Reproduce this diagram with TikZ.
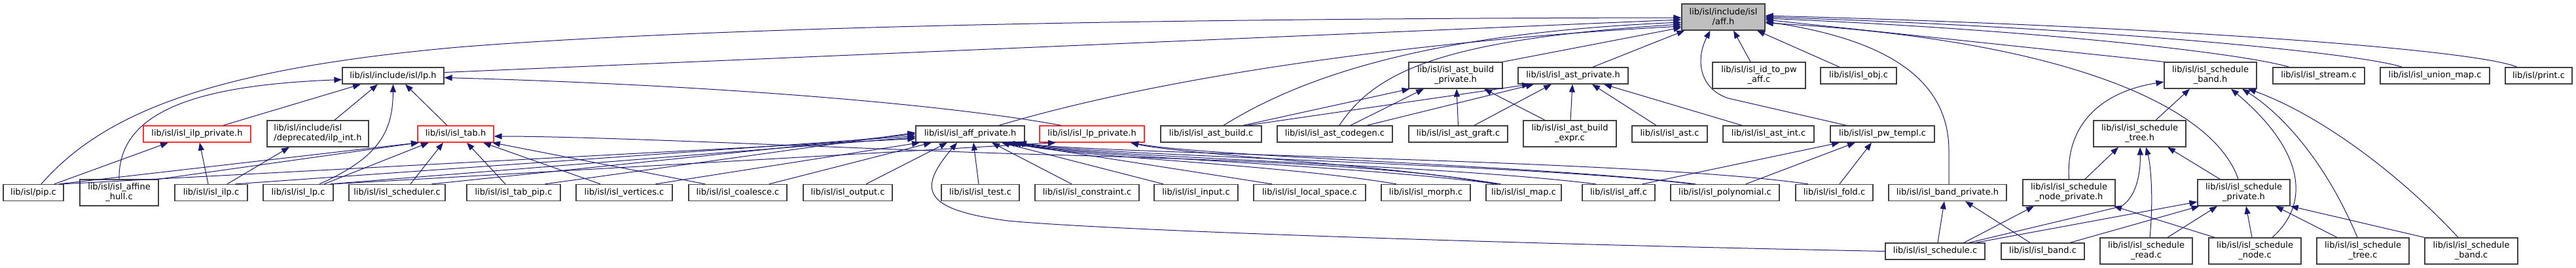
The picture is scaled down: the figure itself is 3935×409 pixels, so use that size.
\documentclass[tikz,border=0pt]{standalone}
\usepackage{fontspec}
\setmainfont{DejaVu Sans}
\usepackage{tikz}
\usetikzlibrary{arrows.meta}
\definecolor{edgeblue}{HTML}{191970}
\definecolor{boxgray}{HTML}{404040}
\definecolor{rootgray}{HTML}{BFBFBF}
\definecolor{truncred}{HTML}{FF3030}
\newcommand{\filefont}{\fontsize{13}{15}\selectfont}

\begin{document}
\begin{tikzpicture}[x=1pt, y=-1pt,
        file/.style={rectangle, draw=boxgray, line width=1.3pt, fill=white, minimum height=25pt, inner sep=0pt, align=center, font=\filefont},
        twoline/.style={minimum height=40pt},
        trunc/.style={draw=truncred},
        root/.style={fill=rootgray},
        dep/.style={draw=edgeblue, line width=1pt, -{Triangle[length=12pt, width=9pt]}}
    ]
        \path[fill=white, use as bounding box] (0,0) rectangle (3935,409);

        \node[file, twoline, root, minimum width=127pt] (affh) at (2632.5,26) {lib/isl/include/isl\\/aff.h};

        \node[file, minimum width=155pt] (lph) at (600.5,115.5) {lib/isl/include/isl/lp.h};
        \node[file, twoline, minimum width=143pt] (astbuildprivh) at (2223.5,115) {lib/isl/isl\_ast\_build\\\_private.h};
        \node[file, minimum width=168pt] (astprivh) at (2403,115.5) {lib/isl/isl\_ast\_private.h};
        \node[file, twoline, minimum width=142pt] (idtopwaffc) at (2687,115) {lib/isl/isl\_id\_to\_pw\\\_aff.c};
        \node[file, minimum width=116pt] (objc) at (2839,115.5) {lib/isl/isl\_obj.c};
        \node[file, twoline, minimum width=141pt] (schedbandh) at (3376.5,115) {lib/isl/isl\_schedule\\\_band.h};
        \node[file, minimum width=140pt] (streamc) at (3542,115.5) {lib/isl/isl\_stream.c};
        \node[file, minimum width=167pt] (unionmapc) at (3719.5,115.5) {lib/isl/isl\_union\_map.c};
        \node[file, minimum width=102pt] (printc) at (3878,115.5) {lib/isl/print.c};

        \node[file, trunc, minimum width=164pt] (ilpprivh) at (301,204.5) {lib/isl/isl\_ilp\_private.h};
        \node[file, twoline, align=left, minimum width=155pt] (ilpinth) at (485.5,204) {lib/isl/include/isl\\/deprecated/ilp\_int.h};
        \node[file, trunc, minimum width=116pt] (tabh) at (696,204.5) {lib/isl/isl\_tab.h};
        \node[file, minimum width=166pt] (affprivh) at (1482,204.5) {lib/isl/isl\_aff\_private.h};
        \node[file, trunc, minimum width=160pt] (lpprivh) at (1668,204.5) {lib/isl/isl\_lp\_private.h};
        \node[file, minimum width=154pt] (astbuildc) at (1850,204.5) {lib/isl/isl\_ast\_build.c};
        \node[file, minimum width=176pt] (astcodegenc) at (2039,204.5) {lib/isl/isl\_ast\_codegen.c};
        \node[file, minimum width=151pt] (astgraftc) at (2227.5,204.5) {lib/isl/isl\_ast\_graft.c};
        \node[file, twoline, minimum width=142pt] (astbuildexprc) at (2398,204) {lib/isl/isl\_ast\_build\\\_expr.c};
        \node[file, minimum width=115pt] (astc) at (2550.5,204.5) {lib/isl/isl\_ast.c};
        \node[file, minimum width=139pt] (astintc) at (2701.5,204.5) {lib/isl/isl\_ast\_int.c};
        \node[file, minimum width=159pt] (pwtemplc) at (2875.5,204.5) {lib/isl/isl\_pw\_templ.c};
        \node[file, twoline, minimum width=141pt] (schedtreeh) at (3268.5,204) {lib/isl/isl\_schedule\\\_tree.h};

        \node[file, minimum width=92pt] (pipc) at (51,294) {lib/isl/pip.c};
        \node[file, twoline, minimum width=120pt] (affhullc) at (182,294) {lib/isl/isl\_affine\\\_hull.c};
        \node[file, minimum width=111pt] (ilpc) at (322.5,294) {lib/isl/isl\_ilp.c};
        \node[file, minimum width=107pt] (lpc) at (455.5,294) {lib/isl/isl\_lp.c};
        \node[file, minimum width=147pt] (schedulerc) at (606.5,294) {lib/isl/isl\_scheduler.c};
        \node[file, minimum width=143pt] (tabpipc) at (784.5,294) {lib/isl/isl\_tab\_pip.c};
        \node[file, minimum width=147pt] (verticesc) at (953.5,294) {lib/isl/isl\_vertices.c};
        \node[file, minimum width=150pt] (coalescec) at (1127,294) {lib/isl/isl\_coalesce.c};
        \node[file, minimum width=136pt] (outputc) at (1295,294) {lib/isl/isl\_output.c};
        \node[file, minimum width=119pt] (testc) at (1497.5,294) {lib/isl/isl\_test.c};
        \node[file, minimum width=159pt] (constraintc) at (1660.5,294) {lib/isl/isl\_constraint.c};
        \node[file, minimum width=128pt] (inputc) at (1827,294) {lib/isl/isl\_input.c};
        \node[file, minimum width=171pt] (localspacec) at (2000.5,294) {lib/isl/isl\_local\_space.c};
        \node[file, minimum width=136pt] (morphc) at (2178,294) {lib/isl/isl\_morph.c};
        \node[file, minimum width=115pt] (mapc) at (2327.5,294) {lib/isl/isl\_map.c};
        \node[file, minimum width=111pt] (affc) at (2472.5,294) {lib/isl/isl\_aff.c};
        \node[file, minimum width=166pt] (polyc) at (2635,294) {lib/isl/isl\_polynomial.c};
        \node[file, minimum width=118pt] (foldc) at (2802,294) {lib/isl/isl\_fold.c};
        \node[file, minimum width=180pt] (bandprivh) at (2975,294) {lib/isl/isl\_band\_private.h};
        \node[file, twoline, minimum width=141pt] (schednodeprivh) at (3160.5,294) {lib/isl/isl\_schedule\\\_node\_private.h};
        \node[file, twoline, minimum width=141pt] (schedprivh) at (3427.5,294) {lib/isl/isl\_schedule\\\_private.h};

        \node[file, minimum width=152pt] (schedulec) at (2956,383.5) {lib/isl/isl\_schedule.c};
        \node[file, minimum width=127pt] (bandc) at (3120.5,383.5) {lib/isl/isl\_band.c};
        \node[file, twoline, minimum width=141pt] (schedreadc) at (3278.5,383) {lib/isl/isl\_schedule\\\_read.c};
        \node[file, twoline, minimum width=141pt] (schednodec) at (3444.5,383) {lib/isl/isl\_schedule\\\_node.c};
        \node[file, twoline, minimum width=141pt] (schedtreec) at (3609.5,383) {lib/isl/isl\_schedule\\\_tree.c};
        \node[file, twoline, minimum width=142pt] (schedbandc) at (3775,383) {lib/isl/isl\_schedule\\\_band.c};

        \foreach \c/\cx/\p/\px in {idtopwaffc/-13/affh/15.5, objc/-29/affh/51.5,
                ilpprivh/40/lph/-49.5, ilpinth/25.5/lph/-23.5, tabh/-13/lph/18.5,
                pipc/32/ilpprivh/-44, ilpc/-4.5/ilpprivh/4, ilpc/24.5/ilpinth/-43.5,
                pipc/39/tabh/-56, lpc/39.5/tabh/-41, schedulerc/20.5/tabh/-19, tabpipc/-12.5/tabh/17,
                verticesc/-36.5/tabh/42, coalescec/-50/tabh/56,
                coalescec/48/affprivh/-59, outputc/28/affprivh/-35, testc/-2.5/affprivh/5,
                constraintc/-23.5/affprivh/33, inputc/-50/affprivh/48, localspacec/-57.5/affprivh/56,
                verticesc/48/affprivh/-77, lpc/53/lpprivh/-55,
                affc/36.5/pwtemplc/-65.5, polyc/32/pwtemplc/-41.5, foldc/8/pwtemplc/-16.5,
                astc/-20.5/astprivh/29, astintc/-40.5/astprivh/47, astbuildexprc/1/astprivh/-1,
                astbuildexprc/-38/astbuildprivh/43.5, astgraftc/0/astbuildprivh/1.5, astgraftc/24.5/astprivh/-33,
                astcodegenc/24/astbuildprivh/-48.5, astcodegenc/49/astprivh/-60,
                astbuildc/55/astprivh/-66, astbuildc/49/astbuildprivh/-70,
                schedulec/4/bandprivh/-5, bandc/-19.5/bandprivh/27,
                schedtreeh/24.5/schedbandh/-31.5, schednodeprivh/24.5/schedtreeh/-32.5, schedprivh/-36.5/schedtreeh/42.5,
                schednodec/-61.5/schednodeprivh/68.5, schedulec/44/schednodeprivh/-53.5,
                bandc/41.5/schedprivh/-68, schedreadc/32.5/schedprivh/-40.5, schednodec/-4.5/schedprivh/3.5,
                schedtreec/-39.5/schedprivh/48.5}
            \draw[dep] ([xshift=\cx pt]\c.north) -- ([xshift=\px pt]\p.south);

        \foreach \c/\cx/\py in {pipc/44/-7, ilpc/37/-3, lpc/49/-5, schedulerc/53/0, tabpipc/48/2}
            \draw[dep] ([xshift=\cx pt]\c.north) -- ([yshift=\py pt]affprivh.west);

        \draw[dep] ([yshift=5pt]lph.east) -- ([yshift=-4pt]affh.west);
        \draw[dep] ([xshift=12pt]pipc.north) .. controls (160,170) and (330,105) .. (700,72) .. controls (1100,40) and (1800,28) .. ([yshift=-1pt]affh.west);
        \draw[dep] ([xshift=44pt]affprivh.north) .. controls (1800,110) and (2200,60) .. ([yshift=-14pt]affh.west);
        \draw[dep] ([xshift=19pt]astbuildc.north) .. controls (2000,110) and (2200,50) .. ([yshift=-8pt]affh.west);
        \draw[dep] ([xshift=7pt]astcodegenc.north) .. controls (2100,110) and (2200,60) .. ([yshift=-11pt]affh.west);
        \draw[dep] (astbuildprivh.north east) -- ([yshift=-16pt]affh.west);
        \draw[dep] ([xshift=30pt]astprivh.north) -- ([xshift=5pt]affh.south west);
        \draw[dep] ([xshift=-55pt]pwtemplc.north) -- (2640,150) .. controls (2595,135) and (2590,90) .. ([xshift=-20pt]affh.south);
        \draw[dep] ([xshift=2pt]bandprivh.north) -- (2977,230) .. controls (2977,120) and (2880,60) .. ([yshift=-7pt]affh.east);
        \draw[dep] (schedbandh.north west) -- ([yshift=-4pt]affh.east);
        \draw[dep] ([xshift=-45pt]streamc.north) .. controls (3420,80) and (3100,45) .. ([yshift=-2pt]affh.east);
        \draw[dep] ([xshift=-50pt]unionmapc.north) .. controls (3600,80) and (3200,42) .. (affh.east);
        \draw[dep] ([xshift=-33pt]printc.north) .. controls (3780,75) and (3300,40) .. ([yshift=2pt]affh.east);
        \draw[dep] ([xshift=-8.5pt]schedprivh.north) .. controls (3380,160) and (3150,60) .. ([yshift=-9pt]affh.east);

        \draw[dep] (affhullc.north) .. controls (180,170) and (300,130) .. ([yshift=-6pt]lph.west);
        \draw[dep] ([xshift=32.5pt]lpc.north) .. controls (580,240) and (600,200) .. (lph.south);
        \draw[dep] ([xshift=-47pt]lpprivh.north) .. controls (1450,160) and (1100,130) .. ([yshift=-3pt]lph.east);

        \draw[dep] (affhullc.north east) -- ([xshift=-56pt]tabh.south);
        \draw[dep] ([xshift=-45pt]mapc.north) .. controls (2100,245) and (1700,240) .. (1500,233) .. controls (1200,222) and (900,208) .. ([yshift=-3.5pt]tabh.east);

        \draw[dep] ([xshift=-45pt]morphc.north) .. controls (1950,250) and (1640,240) .. ([xshift=62pt]affprivh.south);
        \draw[dep] ([xshift=-40pt]mapc.north) .. controls (2050,250) and (1650,240) .. ([xshift=66pt]affprivh.south);
        \draw[dep] ([xshift=-35pt]affc.north) .. controls (2190,250) and (1660,240) .. ([xshift=70pt]affprivh.south);
        \draw[dep] ([xshift=-50pt]polyc.north) .. controls (2330,250) and (1670,238) .. ([xshift=72pt]affprivh.south);
        \draw[dep] ([xshift=-40pt]foldc.north) .. controls (2500,243) and (1680,236) .. ([xshift=74pt]affprivh.south);
        \draw[dep] (schedulec.west) .. controls (2300,372) and (1700,352) .. (1540,337) .. controls (1410,320) and (1400,290) .. ([xshift=-20pt]affprivh.south);

        \draw[dep] ([xshift=-35pt]mapc.north) .. controls (2100,250) and (1800,235) .. ([xshift=59pt]lpprivh.south);
        \draw[dep] ([xshift=-45pt]polyc.north) .. controls (2350,252) and (1850,240) .. ([xshift=59pt]lpprivh.south);

        \draw[dep] (schednodeprivh.north) .. controls (3155,190) and (3210,140) .. ([yshift=-10pt]schedbandh.west);
        \draw[dep] ([xshift=26.5pt]schednodec.north) .. controls (3530,310) and (3520,230) .. ([xshift=31.5pt]schedbandh.south);
        \draw[dep] ([xshift=-8.5pt]schedtreec.north) .. controls (3550,240) and (3480,170) .. ([xshift=48.5pt]schedbandh.south);
        \draw[dep] ([xshift=-20pt]schedbandc.north) .. controls (3650,250) and (3530,170) .. ([xshift=57.5pt]schedbandh.south);

        \draw[dep] ([xshift=52pt]schedulec.north) -- (3240,315) .. controls (3265,300) and (3270,260) .. ([xshift=0.5pt]schedtreeh.south);
        \draw[dep] ([xshift=5.5pt]schedreadc.north) .. controls (3290,300) and (3285,250) .. ([xshift=9.5pt]schedtreeh.south);
        \draw[dep] ([xshift=62pt]schedulec.north) -- ([yshift=-14pt]schedprivh.west);
        \draw[dep] (schedbandc.north west) -- (schedprivh.south east);
    \end{tikzpicture}
\end{document}
